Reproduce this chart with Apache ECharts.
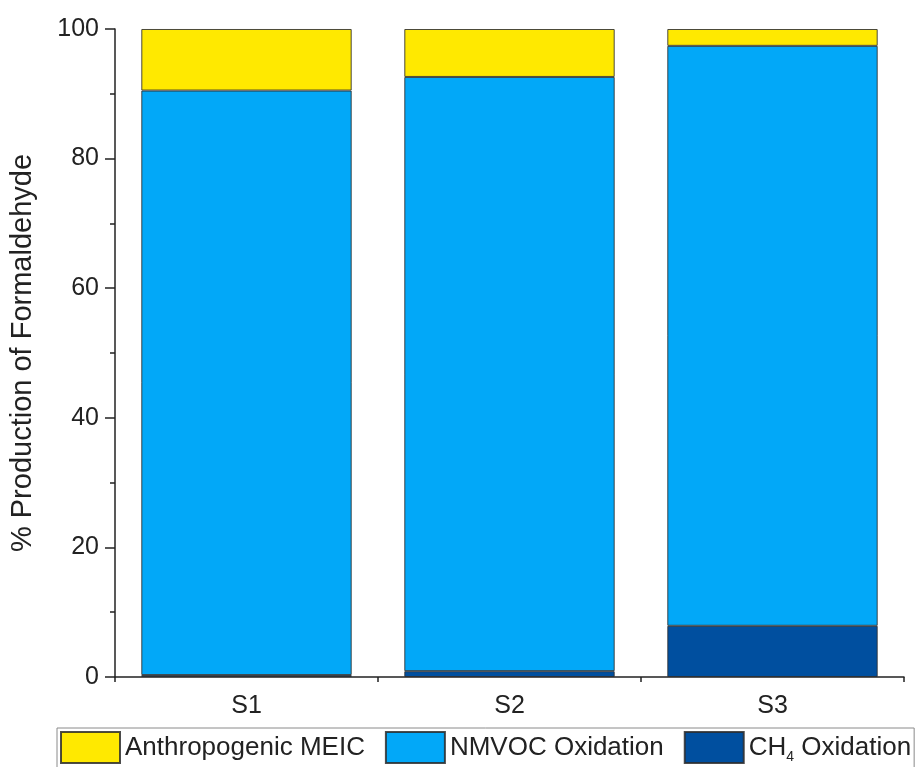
<!DOCTYPE html>
<html>
<head>
<meta charset="utf-8">
<script src="https://cdn.jsdelivr.net/npm/echarts@6/dist/echarts.min.js"></script>
<style>
  html, body { margin: 0; padding: 0; background: #fff; }
  #chart { width: 915px; height: 767px; }
</style>
</head>
<body>
<div id="chart"></div>
<script>
// Scenarios on the x axis
const categories = ['S1', 'S2', 'S3'];
// Share of formaldehyde production (%) by source, stacked bottom to top
const ch4Oxidation = [0.3, 0.9, 7.9];
const nmvocOxidation = [90.2, 91.7, 89.5];
const anthropogenicMEIC = [9.5, 7.4, 2.6];
// Y axis ticks
const yTicks = [0, 20, 40, 60, 80, 100];

const FONT = '"Liberation Sans", Arial, sans-serif';
const colors = {
  meic: '#FFE900',
  nmvoc: '#02A8F8',
  ch4: '#004F9F'
};
const edge = 'rgba(45,45,45,0.85)';

const chart = echarts.init(document.getElementById('chart'), null, { renderer: 'canvas' });

function barSeries(name, data, color) {
  return {
    name: name,
    type: 'bar',
    stack: 'total',
    xAxisIndex: 0,
    data: data,
    barWidth: '80%',
    itemStyle: { color: color, borderColor: edge, borderWidth: 1 },
    emphasis: { disabled: true }
  };
}

chart.setOption({
  animation: false,
  textStyle: { fontFamily: FONT },
  grid: { left: 113, right: 11, top: 29, bottom: 90 },
  legend: {
    data: ['Anthropogenic MEIC', 'NMVOC Oxidation', 'CH4 Oxidation'],
    left: 57,
    top: 728,
    width: 1000,
    orient: 'horizontal',
    padding: [3, 3, 3, 3],
    itemGap: 20,
    itemWidth: 59,
    itemHeight: 31,
    borderColor: '#8a8a8a',
    borderWidth: 1,
    backgroundColor: '#fff',
    icon: 'rect',
    selectedMode: false,
    formatter: function (name) {
      return name === 'CH4 Oxidation' ? 'CH{sub|4} Oxidation' : name;
    },
    textStyle: {
      fontFamily: FONT,
      fontSize: 26,
      color: '#222',
      padding: [0, 0, 0, 0],
      rich: {
        sub: { fontFamily: FONT, fontSize: 14, color: '#222', verticalAlign: 'bottom', padding: [0, 0, -4, 0] }
      }
    }
  },
  xAxis: [
    {
      type: 'category',
      data: categories,
      axisLine: { lineStyle: { color: '#222', width: 1.5 } },
      axisTick: { alignWithLabel: true, length: 10, lineStyle: { color: '#222', width: 1.5 } },
      axisLabel: { fontFamily: FONT, fontSize: 25, color: '#222', margin: 17 },
      splitLine: { show: false }
    },
    {
      // boundary ticks between categories
      type: 'category',
      data: categories,
      position: 'bottom',
      axisLine: { show: false },
      axisTick: { show: true, length: 5, lineStyle: { color: '#222', width: 1.5 } },
      axisLabel: { show: false },
      splitLine: { show: false }
    }
  ],
  yAxis: {
    type: 'value',
    min: yTicks[0],
    max: yTicks[yTicks.length - 1],
    interval: yTicks[1] - yTicks[0],
    name: '% Production of Formaldehyde',
    nameLocation: 'middle',
    nameGap: 78,
    nameTextStyle: { fontFamily: FONT, fontSize: 29, color: '#222' },
    axisLine: { show: true, lineStyle: { color: '#222', width: 1.5 } },
    axisTick: { show: true, length: 10, lineStyle: { color: '#222', width: 1.5 } },
    minorTick: { show: true, splitNumber: 2, length: 5, lineStyle: { color: '#222', width: 1.5 } },
    axisLabel: { fontFamily: FONT, fontSize: 25, color: '#222', margin: 16 },
    splitLine: { show: false }
  },
  series: [
    barSeries('CH4 Oxidation', ch4Oxidation, colors.ch4),
    barSeries('NMVOC Oxidation', nmvocOxidation, colors.nmvoc),
    barSeries('Anthropogenic MEIC', anthropogenicMEIC, colors.meic)
  ]
});
</script>
</body>
</html>
